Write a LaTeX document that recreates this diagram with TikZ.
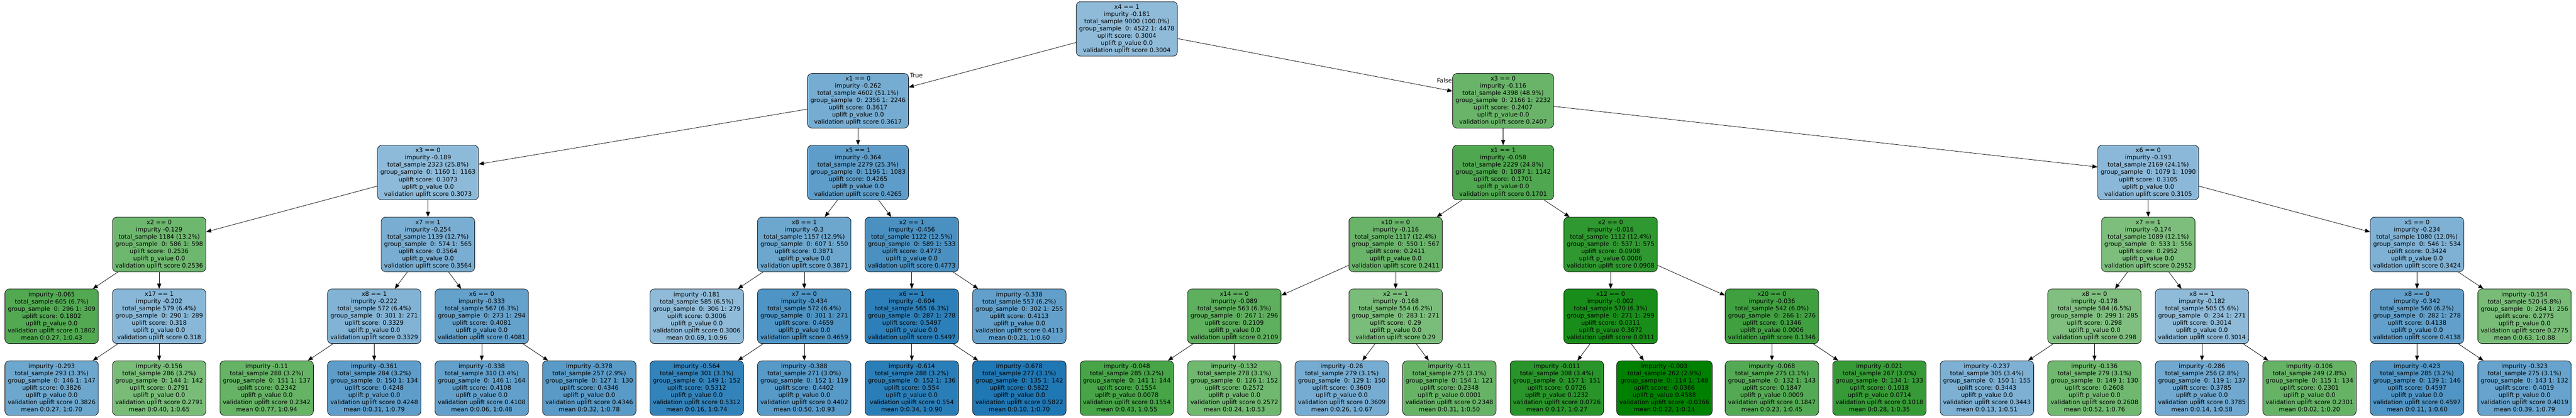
\documentclass[tikz,border=0pt]{standalone}
\usepackage{fontspec}
\setmainfont{DejaVu Sans}
\usetikzlibrary{arrows.meta}
\definecolor{upblue}{RGB}{31,119,180}
\definecolor{upgreen}{RGB}{0,128,0}
\begin{document}
\begin{tikzpicture}[x=148.75pt, y=-99.35pt, >={Triangle[length=7pt,width=5.5pt]},
        font=\fontsize{8.3pt}{10pt}\selectfont, line width=0.55pt,
        box/.style={draw, rectangle, rounded corners=6pt, align=center, minimum height=75.5pt, inner xsep=4pt, inner ysep=3pt},
        bluebox/.style={box, fill=upblue!#1!white},
        greenbox/.style={box, fill=upgreen!#1!white}]
        \useasboundingbox (-71.5pt,40pt) rectangle (3492.5pt,-537.5pt);

        % root and first split
        \node[bluebox=50] (R) at (10,0) {x4 == 1\\impurity -0.181\\total\_sample 9000 (100.0\%)\\group\_sample\ \ 0: 4522 1: 4478\\uplift score: 0.3004\\uplift p\_value 0.0\\validation uplift score 0.3004};
        \node[bluebox=61] (A1) at (7.5,1) {x1 == 0\\impurity -0.262\\total\_sample 4602 (51.1\%)\\group\_sample\ \ 0: 2356 1: 2246\\uplift score: 0.3617\\uplift p\_value 0.0\\validation uplift score 0.3617};
        \node[greenbox=59] (A2) at (13.5,1) {x3 == 0\\impurity -0.116\\total\_sample 4398 (48.9\%)\\group\_sample\ \ 0: 2166 1: 2232\\uplift score: 0.2407\\uplift p\_value 0.0\\validation uplift score 0.2407};

        \node[bluebox=51] (B1) at (3.5,2) {x3 == 0\\impurity -0.189\\total\_sample 2323 (25.8\%)\\group\_sample\ \ 0: 1160 1: 1163\\uplift score: 0.3073\\uplift p\_value 0.0\\validation uplift score 0.3073};
        \node[bluebox=72] (B2) at (7.5,2) {x5 == 1\\impurity -0.364\\total\_sample 2279 (25.3\%)\\group\_sample\ \ 0: 1196 1: 1083\\uplift score: 0.4265\\uplift p\_value 0.0\\validation uplift score 0.4265};
        \node[greenbox=69] (B3) at (13.5,2) {x1 == 1\\impurity -0.058\\total\_sample 2229 (24.8\%)\\group\_sample\ \ 0: 1087 1: 1142\\uplift score: 0.1701\\uplift p\_value 0.0\\validation uplift score 0.1701};
        \node[bluebox=52] (B4) at (19.5,2) {x6 == 0\\impurity -0.193\\total\_sample 2169 (24.1\%)\\group\_sample\ \ 0: 1079 1: 1090\\uplift score: 0.3105\\uplift p\_value 0.0\\validation uplift score 0.3105};

        \node[greenbox=57] (C1) at (1,3) {x2 == 0\\impurity -0.129\\total\_sample 1184 (13.2\%)\\group\_sample\ \ 0: 586 1: 598\\uplift score: 0.2536\\uplift p\_value 0.0\\validation uplift score 0.2536};
        \node[bluebox=60] (C2) at (3.5,3) {x7 == 1\\impurity -0.254\\total\_sample 1139 (12.7\%)\\group\_sample\ \ 0: 574 1: 565\\uplift score: 0.3564\\uplift p\_value 0.0\\validation uplift score 0.3564};
        \node[bluebox=65] (C3) at (7,3) {x8 == 1\\impurity -0.3\\total\_sample 1157 (12.9\%)\\group\_sample\ \ 0: 607 1: 550\\uplift score: 0.3871\\uplift p\_value 0.0\\validation uplift score 0.3871};
        \node[bluebox=81] (C4) at (8,3) {x2 == 1\\impurity -0.456\\total\_sample 1122 (12.5\%)\\group\_sample\ \ 0: 589 1: 533\\uplift score: 0.4773\\uplift p\_value 0.0\\validation uplift score 0.4773};
        \node[greenbox=59] (C5) at (12.5,3) {x10 == 0\\impurity -0.116\\total\_sample 1117 (12.4\%)\\group\_sample\ \ 0: 550 1: 567\\uplift score: 0.2411\\uplift p\_value 0.0\\validation uplift score 0.2411};
        \node[greenbox=81] (C6) at (14.5,3) {x2 == 0\\impurity -0.016\\total\_sample 1112 (12.4\%)\\group\_sample\ \ 0: 537 1: 575\\uplift score: 0.0908\\uplift p\_value 0.0006\\validation uplift score 0.0908};
        \node[greenbox=51] (C7) at (19.5,3) {x7 == 1\\impurity -0.174\\total\_sample 1089 (12.1\%)\\group\_sample\ \ 0: 533 1: 556\\uplift score: 0.2952\\uplift p\_value 0.0\\validation uplift score 0.2952};
        \node[bluebox=57] (C8) at (22,3) {x5 == 0\\impurity -0.234\\total\_sample 1080 (12.0\%)\\group\_sample\ \ 0: 546 1: 534\\uplift score: 0.3424\\uplift p\_value 0.0\\validation uplift score 0.3424};

        \node[greenbox=68] (D1) at (0,4) {impurity -0.065\\total\_sample 605 (6.7\%)\\group\_sample\ \ 0: 296 1: 309\\uplift score: 0.1802\\uplift p\_value 0.0\\validation uplift score 0.1802\\mean 0:0.27, 1:0.43};
        \node[bluebox=53] (D2) at (1,4) {x17 == 1\\impurity -0.202\\total\_sample 579 (6.4\%)\\group\_sample\ \ 0: 290 1: 289\\uplift score: 0.318\\uplift p\_value 0.0\\validation uplift score 0.318};
        \node[bluebox=56] (D3) at (3,4) {x8 == 1\\impurity -0.222\\total\_sample 572 (6.4\%)\\group\_sample\ \ 0: 301 1: 271\\uplift score: 0.3329\\uplift p\_value 0.0\\validation uplift score 0.3329};
        \node[bluebox=69] (D4) at (4,4) {x6 == 0\\impurity -0.333\\total\_sample 567 (6.3\%)\\group\_sample\ \ 0: 273 1: 294\\uplift score: 0.4081\\uplift p\_value 0.0\\validation uplift score 0.4081};
        \node[bluebox=50] (D5) at (6,4) {impurity -0.181\\total\_sample 585 (6.5\%)\\group\_sample\ \ 0: 306 1: 279\\uplift score: 0.3006\\uplift p\_value 0.0\\validation uplift score 0.3006\\mean 0:0.69, 1:0.96};
        \node[bluebox=79] (D6) at (7,4) {x7 == 0\\impurity -0.434\\total\_sample 572 (6.4\%)\\group\_sample\ \ 0: 301 1: 271\\uplift score: 0.4659\\uplift p\_value 0.0\\validation uplift score 0.4659};
        \node[bluebox=94] (D7) at (8,4) {x6 == 1\\impurity -0.604\\total\_sample 565 (6.3\%)\\group\_sample\ \ 0: 287 1: 278\\uplift score: 0.5497\\uplift p\_value 0.0\\validation uplift score 0.5497};
        \node[bluebox=70] (D8) at (9,4) {impurity -0.338\\total\_sample 557 (6.2\%)\\group\_sample\ \ 0: 302 1: 255\\uplift score: 0.4113\\uplift p\_value 0.0\\validation uplift score 0.4113\\mean 0:0.21, 1:0.60};
        \node[greenbox=63] (D9) at (11,4) {x14 == 0\\impurity -0.089\\total\_sample 563 (6.3\%)\\group\_sample\ \ 0: 267 1: 296\\uplift score: 0.2109\\uplift p\_value 0.0\\validation uplift score 0.2109};
        \node[greenbox=52] (D10) at (12.5,4) {x2 == 1\\impurity -0.168\\total\_sample 554 (6.2\%)\\group\_sample\ \ 0: 283 1: 271\\uplift score: 0.29\\uplift p\_value 0.0\\validation uplift score 0.29};
        \node[greenbox=90] (D11) at (14.5,4) {x12 == 0\\impurity -0.002\\total\_sample 570 (6.3\%)\\group\_sample\ \ 0: 271 1: 299\\uplift score: 0.0311\\uplift p\_value 0.3672\\validation uplift score 0.0311};
        \node[greenbox=75] (D12) at (16,4) {x20 == 0\\impurity -0.036\\total\_sample 542 (6.0\%)\\group\_sample\ \ 0: 266 1: 276\\uplift score: 0.1346\\uplift p\_value 0.0006\\validation uplift score 0.1346};
        \node[greenbox=50] (D13) at (19,4) {x8 == 0\\impurity -0.178\\total\_sample 584 (6.5\%)\\group\_sample\ \ 0: 299 1: 285\\uplift score: 0.298\\uplift p\_value 0.0\\validation uplift score 0.298};
        \node[bluebox=50] (D14) at (20,4) {x8 == 1\\impurity -0.182\\total\_sample 505 (5.6\%)\\group\_sample\ \ 0: 234 1: 271\\uplift score: 0.3014\\uplift p\_value 0.0\\validation uplift score 0.3014};
        \node[bluebox=70] (D15) at (22,4) {x8 == 0\\impurity -0.342\\total\_sample 560 (6.2\%)\\group\_sample\ \ 0: 282 1: 278\\uplift score: 0.4138\\uplift p\_value 0.0\\validation uplift score 0.4138};
        \node[greenbox=53] (D16) at (23,4) {impurity -0.154\\total\_sample 520 (5.8\%)\\group\_sample\ \ 0: 264 1: 256\\uplift score: 0.2775\\uplift p\_value 0.0\\validation uplift score 0.2775\\mean 0:0.63, 1:0.88};

        % leaves of the last level
        \node[bluebox=65] (E1) at (0,5) {impurity -0.293\\total\_sample 293 (3.3\%)\\group\_sample\ \ 0: 146 1: 147\\uplift score: 0.3826\\uplift p\_value 0.0\\validation uplift score 0.3826\\mean 0:0.27, 1:0.70};
        \node[greenbox=53] (E2) at (1,5) {impurity -0.156\\total\_sample 286 (3.2\%)\\group\_sample\ \ 0: 144 1: 142\\uplift score: 0.2791\\uplift p\_value 0.0\\validation uplift score 0.2791\\mean 0:0.40, 1:0.65};
        \node[greenbox=60] (E3) at (2,5) {impurity -0.11\\total\_sample 288 (3.2\%)\\group\_sample\ \ 0: 151 1: 137\\uplift score: 0.2342\\uplift p\_value 0.0\\validation uplift score 0.2342\\mean 0:0.77, 1:0.94};
        \node[bluebox=72] (E4) at (3,5) {impurity -0.361\\total\_sample 284 (3.2\%)\\group\_sample\ \ 0: 150 1: 134\\uplift score: 0.4248\\uplift p\_value 0.0\\validation uplift score 0.4248\\mean 0:0.31, 1:0.79};
        \node[bluebox=70] (E5) at (4,5) {impurity -0.338\\total\_sample 310 (3.4\%)\\group\_sample\ \ 0: 146 1: 164\\uplift score: 0.4108\\uplift p\_value 0.0\\validation uplift score 0.4108\\mean 0:0.06, 1:0.48};
        \node[bluebox=74] (E6) at (5,5) {impurity -0.378\\total\_sample 257 (2.9\%)\\group\_sample\ \ 0: 127 1: 130\\uplift score: 0.4346\\uplift p\_value 0.0\\validation uplift score 0.4346\\mean 0:0.32, 1:0.78};
        \node[bluebox=91] (E7) at (6,5) {impurity -0.564\\total\_sample 301 (3.3\%)\\group\_sample\ \ 0: 149 1: 152\\uplift score: 0.5312\\uplift p\_value 0.0\\validation uplift score 0.5312\\mean 0:0.16, 1:0.74};
        \node[bluebox=75] (E8) at (7,5) {impurity -0.388\\total\_sample 271 (3.0\%)\\group\_sample\ \ 0: 152 1: 119\\uplift score: 0.4402\\uplift p\_value 0.0\\validation uplift score 0.4402\\mean 0:0.50, 1:0.93};
        \node[bluebox=95] (E9) at (8,5) {impurity -0.614\\total\_sample 288 (3.2\%)\\group\_sample\ \ 0: 152 1: 136\\uplift score: 0.554\\uplift p\_value 0.0\\validation uplift score 0.554\\mean 0:0.34, 1:0.90};
        \node[bluebox=100] (E10) at (9,5) {impurity -0.678\\total\_sample 277 (3.1\%)\\group\_sample\ \ 0: 135 1: 142\\uplift score: 0.5822\\uplift p\_value 0.0\\validation uplift score 0.5822\\mean 0:0.10, 1:0.70};
        \node[greenbox=72] (E11) at (10,5) {impurity -0.048\\total\_sample 285 (3.2\%)\\group\_sample\ \ 0: 141 1: 144\\uplift score: 0.1554\\uplift p\_value 0.0078\\validation uplift score 0.1554\\mean 0:0.43, 1:0.55};
        \node[greenbox=56] (E12) at (11,5) {impurity -0.132\\total\_sample 278 (3.1\%)\\group\_sample\ \ 0: 126 1: 152\\uplift score: 0.2572\\uplift p\_value 0.0\\validation uplift score 0.2572\\mean 0:0.24, 1:0.53};
        \node[bluebox=61] (E13) at (12,5) {impurity -0.26\\total\_sample 279 (3.1\%)\\group\_sample\ \ 0: 129 1: 150\\uplift score: 0.3609\\uplift p\_value 0.0\\validation uplift score 0.3609\\mean 0:0.26, 1:0.67};
        \node[greenbox=60] (E14) at (13,5) {impurity -0.11\\total\_sample 275 (3.1\%)\\group\_sample\ \ 0: 154 1: 121\\uplift score: 0.2348\\uplift p\_value 0.0001\\validation uplift score 0.2348\\mean 0:0.31, 1:0.50};
        \node[greenbox=84] (E15) at (14,5) {impurity -0.011\\total\_sample 308 (3.4\%)\\group\_sample\ \ 0: 157 1: 151\\uplift score: 0.0726\\uplift p\_value 0.1232\\validation uplift score 0.0726\\mean 0:0.17, 1:0.27};
        \node[greenbox=100] (E16) at (15,5) {impurity -0.003\\total\_sample 262 (2.9\%)\\group\_sample\ \ 0: 114 1: 148\\uplift score: -0.0366\\uplift p\_value 0.4588\\validation uplift score -0.0366\\mean 0:0.22, 1:0.14};
        \node[greenbox=67] (E17) at (16,5) {impurity -0.068\\total\_sample 275 (3.1\%)\\group\_sample\ \ 0: 132 1: 143\\uplift score: 0.1847\\uplift p\_value 0.0009\\validation uplift score 0.1847\\mean 0:0.23, 1:0.45};
        \node[greenbox=79] (E18) at (17,5) {impurity -0.021\\total\_sample 267 (3.0\%)\\group\_sample\ \ 0: 134 1: 133\\uplift score: 0.1018\\uplift p\_value 0.0714\\validation uplift score 0.1018\\mean 0:0.28, 1:0.35};
        \node[bluebox=58] (E19) at (18,5) {impurity -0.237\\total\_sample 305 (3.4\%)\\group\_sample\ \ 0: 150 1: 155\\uplift score: 0.3443\\uplift p\_value 0.0\\validation uplift score 0.3443\\mean 0:0.13, 1:0.51};
        \node[greenbox=56] (E20) at (19,5) {impurity -0.136\\total\_sample 279 (3.1\%)\\group\_sample\ \ 0: 149 1: 130\\uplift score: 0.2608\\uplift p\_value 0.0\\validation uplift score 0.2608\\mean 0:0.52, 1:0.76};
        \node[bluebox=64] (E21) at (20,5) {impurity -0.286\\total\_sample 256 (2.8\%)\\group\_sample\ \ 0: 119 1: 137\\uplift score: 0.3785\\uplift p\_value 0.0\\validation uplift score 0.3785\\mean 0:0.14, 1:0.58};
        \node[greenbox=60] (E22) at (21,5) {impurity -0.106\\total\_sample 249 (2.8\%)\\group\_sample\ \ 0: 115 1: 134\\uplift score: 0.2301\\uplift p\_value 0.0\\validation uplift score 0.2301\\mean 0:0.02, 1:0.20};
        \node[bluebox=78] (E23) at (22,5) {impurity -0.423\\total\_sample 285 (3.2\%)\\group\_sample\ \ 0: 139 1: 146\\uplift score: 0.4597\\uplift p\_value 0.0\\validation uplift score 0.4597\\mean 0:0.11, 1:0.60};
        \node[bluebox=68] (E24) at (23,5) {impurity -0.323\\total\_sample 275 (3.1\%)\\group\_sample\ \ 0: 143 1: 132\\uplift score: 0.4019\\uplift p\_value 0.0\\validation uplift score 0.4019\\mean 0:0.39, 1:0.79};

        \draw (R) edge[->] node[pos=1, xshift=10.5pt, yshift=16pt] {True} (A1);
        \draw (R) edge[->] node[pos=1, xshift=-11pt, yshift=14.5pt] {False} (A2);

        \draw (A1) edge[->] (B1);
        \draw (A1) edge[->] (B2);
        \draw (A2) edge[->] (B3);
        \draw (A2) edge[->] (B4);

        \draw (B1) edge[->] (C1);
        \draw (B1) edge[->] (C2);
        \draw (B2) edge[->] (C3);
        \draw (B2) edge[->] (C4);
        \draw (B3) edge[->] (C5);
        \draw (B3) edge[->] (C6);
        \draw (B4) edge[->] (C7);
        \draw (B4) edge[->] (C8);

        \draw (C1) edge[->] (D1);
        \draw (C1) edge[->] (D2);
        \draw (C2) edge[->] (D3);
        \draw (C2) edge[->] (D4);
        \draw (C3) edge[->] (D5);
        \draw (C3) edge[->] (D6);
        \draw (C4) edge[->] (D7);
        \draw (C4) edge[->] (D8);
        \draw (C5) edge[->] (D9);
        \draw (C5) edge[->] (D10);
        \draw (C6) edge[->] (D11);
        \draw (C6) edge[->] (D12);
        \draw (C7) edge[->] (D13);
        \draw (C7) edge[->] (D14);
        \draw (C8) edge[->] (D15);
        \draw (C8) edge[->] (D16);

        \draw (D2) edge[->] (E1);
        \draw (D2) edge[->] (E2);
        \draw (D3) edge[->] (E3);
        \draw (D3) edge[->] (E4);
        \draw (D4) edge[->] (E5);
        \draw (D4) edge[->] (E6);
        \draw (D6) edge[->] (E7);
        \draw (D6) edge[->] (E8);
        \draw (D7) edge[->] (E9);
        \draw (D7) edge[->] (E10);
        \draw (D9) edge[->] (E11);
        \draw (D9) edge[->] (E12);
        \draw (D10) edge[->] (E13);
        \draw (D10) edge[->] (E14);
        \draw (D11) edge[->] (E15);
        \draw (D11) edge[->] (E16);
        \draw (D12) edge[->] (E17);
        \draw (D12) edge[->] (E18);
        \draw (D13) edge[->] (E19);
        \draw (D13) edge[->] (E20);
        \draw (D14) edge[->] (E21);
        \draw (D14) edge[->] (E22);
        \draw (D15) edge[->] (E23);
        \draw (D15) edge[->] (E24);

    \end{tikzpicture}
\end{document}
